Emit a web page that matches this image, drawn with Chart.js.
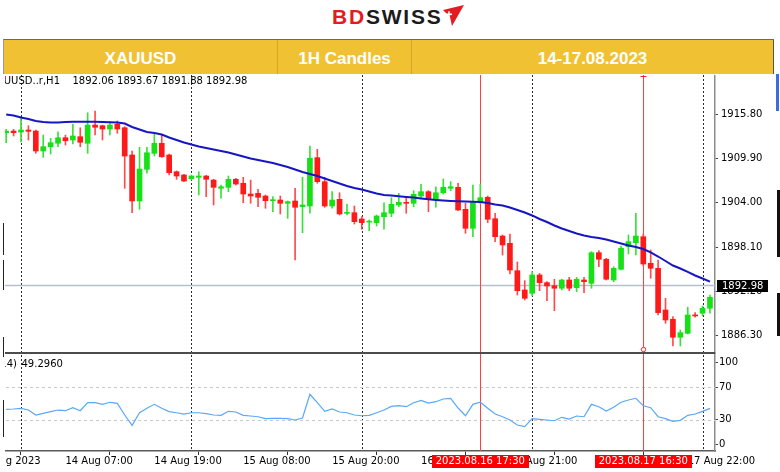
<!DOCTYPE html>
<html>
<head>
<meta charset="utf-8">
<script src="https://cdn.jsdelivr.net/npm/chart.js@4.4.0/dist/chart.umd.min.js"></script>
<style>
  body { margin: 0; width: 780px; height: 472px; position: relative; overflow: hidden; background: #fff; }
  .logo { position: absolute; left: 332px; top: 6px; font: bold 21px/21px "Liberation Sans", Arial, sans-serif; letter-spacing: 1.8px; white-space: nowrap; }
  .logo .bd { color: #e31b23; }
  .logo .sw { color: #1b1b1b; }
  .logo svg { position: absolute; left: 111px; top: -1px; }
  .hdr { position: absolute; left: 3px; top: 39px; width: 771px; height: 35px; background: #f0c233; border-top: 1px solid #6a6a6a; border-left: 1px solid #9a9a9a; box-sizing: border-box; }
  .cell { position: absolute; top: 0; height: 34px; line-height: 37px; text-align: center; color: #fff; font: bold 17px/37px "Liberation Sans", Arial, sans-serif; border-right: 1px solid rgba(120, 90, 0, 0.25); box-sizing: border-box; }
  #c { position: absolute; left: 0; top: 75px; }
  .edge { position: absolute; }
</style>
</head>
<body>
<div class="logo"><span class="bd">BD</span><span class="sw">SWISS</span><svg width="22" height="22" viewBox="0 0 22 22"><polygon points="0,5 21,0 9,21 7,12" fill="#e31b23"/><rect x="3" y="8.5" width="6" height="1.6" fill="#fff"/><rect x="5.2" y="6.3" width="1.6" height="6" fill="#fff"/></svg></div>
<div class="hdr">
  <div class="cell" style="left:0;width:274px">XAUUSD</div>
  <div class="cell" style="left:274px;width:134px">1H Candles</div>
  <div class="cell" style="left:408px;width:362px;border-right:1px solid #555">14-17.08.2023</div>
</div>
<canvas id="c" width="780" height="397"></canvas>
<!-- window edges cropped into the screenshot -->
<div class="edge" style="left:0;top:75px;width:5px;height:397px;background:#fff"></div>
<div class="edge" style="left:3px;top:223px;width:1px;height:32px;background:#222"></div>
<div class="edge" style="left:3px;top:260px;width:1px;height:30px;background:#222"></div>
<div class="edge" style="left:3px;top:337px;width:1px;height:20px;background:#222"></div>
<div class="edge" style="left:3px;top:400px;width:1px;height:37px;background:#222"></div>
<div class="edge" style="left:776px;top:74px;width:3px;height:37px;background:#3a6fd8"></div>
<div class="edge" style="left:777px;top:190px;width:3px;height:67px;background:#111"></div>
<div class="edge" style="left:777px;top:293px;width:3px;height:43px;background:#111"></div>
<script>
// bars: 11 Aug 22:00 ... 18 Aug 02:00, one per hour (bar 0 = 11 Aug 22:00)
const opens = [1913.35, 1913.57, 1913.44, 1913.71, 1913.57, 1910.91, 1911.48, 1911.94, 1912.68, 1912.38,
  1912.82, 1911.94, 1914.37, 1914.28, 1913.84, 1914.47, 1914.01, 1910.38, 1904.25, 1908.47,
  1910.60, 1911.94, 1910.38, 1908.15, 1907.71, 1907.22, 1907.41, 1907.58, 1907.04, 1905.94,
  1906.07, 1907.14, 1906.61, 1905.18, 1905.27, 1904.91, 1904.29, 1904.38, 1903.94, 1904.25,
  1903.49, 1903.58, 1910.02, 1906.82, 1903.58, 1904.47, 1902.61, 1902.69, 1901.85, 1901.43,
  1901.36, 1902.16, 1902.61, 1903.72, 1904.07, 1903.94, 1904.91, 1905.49, 1904.47, 1905.35,
  1905.94, 1906.07, 1903.14, 1900.61, 1904.16, 1904.74, 1901.89, 1899.58, 1898.61, 1894.96,
  1892.39, 1891.95, 1894.39, 1893.36, 1892.96, 1892.62, 1893.72, 1892.70, 1893.72, 1893.28,
  1897.36, 1896.48, 1893.72, 1895.15, 1898.16, 1898.69, 1899.49, 1895.95, 1895.28, 1889.72,
  1888.49, 1886.09, 1886.62, 1889.06, 1889.29, 1889.95];
const highs = [1913.80, 1913.80, 1915.31, 1914.28, 1913.71, 1913.04, 1912.60, 1913.48, 1913.04, 1914.47,
  1914.01, 1916.01, 1916.24, 1914.37, 1914.81, 1914.91, 1914.15, 1910.91, 1911.40, 1911.40,
  1913.14, 1913.04, 1910.51, 1908.25, 1907.81, 1907.71, 1908.15, 1907.67, 1907.14, 1906.38,
  1907.58, 1907.27, 1907.41, 1907.04, 1905.81, 1905.05, 1904.82, 1904.91, 1904.25, 1905.94,
  1907.41, 1911.58, 1911.14, 1907.41, 1905.49, 1905.35, 1903.85, 1903.58, 1902.16, 1901.72,
  1902.38, 1904.02, 1904.69, 1905.27, 1904.82, 1905.62, 1906.47, 1905.62, 1906.15, 1907.18,
  1906.82, 1906.61, 1903.94, 1906.38, 1906.47, 1904.91, 1902.61, 1899.72, 1899.85, 1896.12,
  1893.63, 1894.83, 1894.61, 1893.50, 1893.82, 1893.82, 1894.08, 1894.08, 1894.08, 1897.49,
  1897.63, 1896.61, 1895.49, 1898.25, 1899.72, 1902.61, 1899.85, 1897.72, 1896.39, 1891.28,
  1888.83, 1887.06, 1890.09, 1889.37, 1890.26, 1891.72];
const lows = [1912.02, 1912.91, 1912.11, 1912.38, 1910.60, 1910.07, 1910.51, 1911.48, 1911.71, 1911.84,
  1911.48, 1910.60, 1913.04, 1912.38, 1913.04, 1913.27, 1905.94, 1902.69, 1903.14, 1907.94,
  1910.24, 1910.07, 1907.71, 1907.14, 1906.82, 1907.05, 1905.05, 1904.82, 1903.72, 1904.61,
  1905.49, 1906.38, 1904.02, 1903.94, 1903.49, 1903.28, 1902.82, 1902.52, 1901.94, 1896.39,
  1900.02, 1902.61, 1906.61, 1903.41, 1903.28, 1902.38, 1902.38, 1901.18, 1900.48, 1900.29,
  1900.92, 1900.48, 1902.16, 1903.49, 1902.61, 1903.49, 1904.61, 1902.82, 1903.41, 1905.18,
  1905.62, 1902.96, 1899.94, 1899.49, 1903.94, 1901.36, 1898.83, 1897.05, 1894.52, 1891.72,
  1891.06, 1891.59, 1892.30, 1890.96, 1889.63, 1892.39, 1892.30, 1892.16, 1892.03, 1892.62,
  1895.49, 1893.72, 1893.50, 1895.05, 1897.19, 1897.05, 1895.59, 1893.95, 1889.06, 1887.95,
  1884.93, 1884.93, 1886.53, 1888.75, 1888.93, 1889.29];
const closes = [1913.57, 1913.35, 1913.71, 1913.53, 1910.91, 1911.48, 1912.02, 1912.68, 1912.28, 1912.91,
  1912.07, 1914.37, 1914.07, 1913.84, 1914.37, 1913.84, 1910.24, 1904.25, 1908.51, 1910.68,
  1911.94, 1910.15, 1908.02, 1907.58, 1906.91, 1907.58, 1907.58, 1907.14, 1906.07, 1906.15,
  1907.14, 1906.51, 1905.18, 1904.91, 1904.74, 1904.29, 1904.38, 1903.94, 1904.16, 1903.41,
  1903.72, 1909.94, 1906.82, 1903.58, 1904.38, 1902.52, 1902.69, 1901.49, 1901.36, 1901.49,
  1902.25, 1902.69, 1903.81, 1904.07, 1903.94, 1905.14, 1905.49, 1904.47, 1905.35, 1906.07,
  1906.15, 1903.05, 1900.61, 1904.16, 1904.69, 1901.81, 1899.49, 1898.39, 1895.05, 1892.30,
  1891.28, 1894.39, 1893.36, 1892.92, 1892.62, 1893.72, 1892.62, 1893.82, 1893.50, 1897.36,
  1896.48, 1893.82, 1895.28, 1897.95, 1898.83, 1899.58, 1895.85, 1895.28, 1889.37, 1888.39,
  1886.09, 1886.70, 1889.06, 1888.93, 1889.95, 1891.42];
const maValues = [1915.77, 1915.64, 1915.37, 1915.17, 1914.91, 1914.77, 1914.71, 1914.71, 1914.77, 1914.81,
  1914.81, 1914.81, 1914.81, 1914.77, 1914.73, 1914.71, 1914.57, 1914.11, 1913.77, 1913.44,
  1913.31, 1913.11, 1912.71, 1912.38, 1912.04, 1911.78, 1911.51, 1911.31, 1911.11, 1910.91,
  1910.71, 1910.44, 1910.18, 1909.91, 1909.71, 1909.51, 1909.31, 1909.04, 1908.78, 1908.45,
  1908.11, 1907.85, 1907.58, 1907.25, 1906.91, 1906.58, 1906.25, 1905.98, 1905.78, 1905.51,
  1905.25, 1905.05, 1904.98, 1904.87, 1904.78, 1904.71, 1904.58, 1904.47, 1904.38, 1904.31,
  1904.25, 1904.21, 1904.18, 1904.15, 1904.11, 1903.98, 1903.78, 1903.65, 1903.38, 1903.05,
  1902.72, 1902.32, 1901.85, 1901.45, 1900.98, 1900.58, 1900.25, 1899.92, 1899.65, 1899.45,
  1899.32, 1899.12, 1898.85, 1898.59, 1898.32, 1898.12, 1897.85, 1897.39, 1896.85, 1896.25,
  1895.65, 1895.25, 1894.79, 1894.32, 1893.92, 1893.50];
const rsiValues = [42.9, 43.3, 44.1, 42.0, 35.9, 38.0, 40.0, 42.0, 41.2, 44.9,
  41.2, 51.0, 51.0, 49.0, 51.5, 50.2, 35.9, 23.3, 38.7, 44.1,
  49.0, 44.1, 40.0, 38.7, 37.1, 38.7, 38.7, 37.5, 35.9, 35.5,
  40.4, 39.6, 35.5, 34.7, 33.8, 31.4, 31.9, 31.9, 31.4, 29.8,
  32.2, 61.3, 51.0, 40.4, 43.3, 39.6, 38.7, 35.9, 35.0, 35.5,
  38.7, 42.0, 46.5, 47.3, 46.1, 51.0, 53.9, 50.6, 52.2, 55.5,
  56.4, 44.5, 35.0, 49.0, 51.5, 44.1, 37.1, 33.8, 29.8, 23.7,
  21.6, 31.4, 30.6, 29.8, 28.9, 33.1, 31.0, 34.7, 33.8, 49.0,
  46.1, 40.8, 45.3, 51.5, 54.3, 56.4, 47.3, 44.9, 33.8, 31.4,
  28.2, 29.4, 35.5, 37.1, 40.4, 44.1];

// axes and annotations
const timeTickBars = [-4, 8, 20, 32, 44, 56, 68, 80, 92];
const timeTickLabels = ['11 Aug 2023', '14 Aug 07:00', '14 Aug 19:00', '15 Aug 08:00', '15 Aug 20:00',
  '16 Aug 09:00', '16 Aug 21:00', '17 Aug 10:00', '17 Aug 22:00'];
const daySeparatorBars = [2, 25, 48, 71, 94];
const markerBars = [64, 86];
const markerLabels = ['2023.08.16 17:30', '2023.08.17 16:30'];
const priceTicks = [1886.30, 1892.20, 1898.10, 1904.00, 1909.90, 1915.80];
const rsiTicks = [0, 30, 70, 100];
const rsiLevels = [30, 70];
const bidPrice = 1892.98;
const symbolText = 'XAUUSD..r,H1';
const ohlcText = ['1892.06', '1893.67', '1891.88', '1892.98'];
const rsiName = 'RSI(14)';
const rsiValueText = '49.2960';

const GREEN = '#16e016', RED = '#ff1a1a';
const FONT = '10px "DejaVu Sans"';
Chart.defaults.font.family = '"DejaVu Sans", sans-serif';
Chart.defaults.font.size = 10;
Chart.defaults.color = '#000';

const isUp = opens.map((o, k) => closes[k] >= o);

const decor = {
    id: 'decor',
    beforeDatasetsDraw(chart) {
        const { ctx, chartArea, scales: { x, y, y2 } } = chart;
        ctx.save();
        // day separators
        ctx.strokeStyle = '#2a2a2a';
        ctx.lineWidth = 1;
        ctx.setLineDash([2, 2]);
        daySeparatorBars.forEach(b => {
            const px = Math.round(x.getPixelForValue(b)) + 0.5;
            ctx.beginPath(); ctx.moveTo(px, chartArea.top); ctx.lineTo(px, chartArea.bottom); ctx.stroke();
        });
        // RSI levels
        ctx.strokeStyle = '#c8c8c8';
        ctx.setLineDash([3, 3]);
        rsiLevels.forEach(v => {
            const py = Math.round(y2.getPixelForValue(v)) + 0.5;
            ctx.beginPath(); ctx.moveTo(chartArea.left, py); ctx.lineTo(chartArea.right, py); ctx.stroke();
        });
        ctx.setLineDash([]);
        // bid line
        ctx.strokeStyle = '#b6c0ca';
        ctx.lineWidth = 1.6;
        const by = y.getPixelForValue(bidPrice);
        ctx.beginPath(); ctx.moveTo(chartArea.left, by); ctx.lineTo(chartArea.right, by); ctx.stroke();
        // vertical event lines
        ctx.strokeStyle = '#ff4040';
        ctx.lineWidth = 1;
        markerBars.forEach(b => {
            const px = Math.round(x.getPixelForValue(b)) + 0.5;
            ctx.beginPath(); ctx.moveTo(px, chartArea.top); ctx.lineTo(px, chartArea.bottom); ctx.stroke();
        });
        ctx.restore();
    },
    afterDraw(chart) {
        const { ctx, chartArea, scales: { x, y, y2 } } = chart;
        ctx.save();
        // border between price and RSI panes
        ctx.strokeStyle = '#4c4c4c';
        ctx.lineWidth = 2;
        ctx.beginPath(); ctx.moveTo(chartArea.left, y.bottom); ctx.lineTo(chartArea.right, y.bottom); ctx.stroke();

        // small anchor mark on the second event line
        const mx = Math.round(x.getPixelForValue(markerBars[1])) + 0.5;
        ctx.strokeStyle = '#ff2020';
        ctx.lineWidth = 1;
        ctx.fillStyle = '#fff';
        ctx.beginPath(); ctx.arc(mx, y.bottom - 3.5, 2.2, 0, Math.PI * 2); ctx.fill(); ctx.stroke();
        ctx.beginPath(); ctx.moveTo(mx - 3, chartArea.top + 1.5); ctx.lineTo(mx + 3, chartArea.top + 1.5); ctx.stroke();

        // text at the top of each pane
        ctx.font = FONT;
        ctx.fillStyle = '#000';
        ctx.textBaseline = 'middle';
        ctx.textAlign = 'right';
        ctx.fillText(symbolText, 60, 6);
        ctx.fillText(rsiName, 17, y2.top + 11);
        ctx.textAlign = 'left';
        ctx.fillText(ohlcText.join(' '), 72.5, 6);
        ctx.fillText(rsiValueText, 21.5, y2.top + 11);

        // current price label
        const by = y.getPixelForValue(bidPrice);
        ctx.fillStyle = '#000';
        ctx.fillRect(chartArea.right + 2, Math.round(by) - 6, 51, 12);
        ctx.fillStyle = '#fff';
        ctx.fillText(bidPrice.toFixed(2), chartArea.right + 7, by + 0.5);

        // event time labels on the time axis
        ctx.textAlign = 'center';
        markerBars.forEach((b, i) => {
            const px = x.getPixelForValue(b);
            const w = ctx.measureText(markerLabels[i]).width + 8;
            ctx.fillStyle = '#ff0000';
            ctx.fillRect(Math.round(px - w / 2), chartArea.bottom + 4, Math.round(w), 13);
            ctx.fillStyle = '#fff';
            ctx.fillText(markerLabels[i], px, chartArea.bottom + 10.5);
        });
        ctx.restore();
    }
};

const fit = (w, h) => s => {
    if (w) s.width = w;
    if (h) s.height = h;
    s.paddingTop = 0; s.paddingBottom = 0; s.paddingLeft = 0; s.paddingRight = 0;
};

new Chart(document.getElementById('c'), {
    type: 'bar',
    data: {
        datasets: [
            {
                type: 'line', label: 'MA', yAxisID: 'y', order: 0,
                data: maValues.map((v, k) => ({ x: k, y: v })),
                borderColor: '#1616c4', borderWidth: 2, pointRadius: 0, tension: 0
            },
            {
                type: 'line', label: 'RSI', yAxisID: 'y2', order: 0,
                data: rsiValues.map((v, k) => ({ x: k, y: v })),
                borderColor: '#5aa8f8', borderWidth: 1.2, pointRadius: 0, tension: 0
            },
            {
                label: 'body', yAxisID: 'y', order: 1, grouped: false,
                data: opens.map((o, k) => ({ x: k, y: [Math.min(o, closes[k]), Math.max(o, closes[k])] })),
                backgroundColor: isUp.map(u => u ? GREEN : RED),
                barThickness: 5, minBarLength: 1, borderWidth: 0
            },
            {
                label: 'wick', yAxisID: 'y', order: 2, grouped: false,
                data: lows.map((l, k) => ({ x: k, y: [l, highs[k]] })),
                backgroundColor: isUp.map(u => u ? '#3ae03a' : '#ff4a4a'),
                barThickness: 1, borderWidth: 0
            }
        ]
    },
    options: {
        responsive: false,
        animation: false,
        devicePixelRatio: 1,
        events: [],
        layout: { padding: 0 },
        plugins: { legend: { display: false }, tooltip: { enabled: false } },
        scales: {
            x: {
                type: 'linear', position: 'bottom', min: -0.834, max: 95.68, bounds: 'data', offset: false,
                afterBuildTicks: s => { s.ticks = timeTickBars.map(v => ({ value: v })); },
                ticks: {
                    callback: (v, i) => timeTickLabels[i],
                    align: 'start', autoSkip: false, maxRotation: 0, minRotation: 0, padding: 0,
                    font: { size: 10 }, color: '#000'
                },
                grid: { drawOnChartArea: false, drawTicks: true, tickLength: 4, tickColor: '#333', tickWidth: 1 },
                border: { color: '#5a5a5a', width: 1.5 },
                afterFit: fit(0, 21)
            },
            y: {
                type: 'linear', position: 'right', stack: 'panes', stackWeight: 278,
                min: 1883.99, max: 1921.04, bounds: 'data',
                afterBuildTicks: s => { s.ticks = priceTicks.map(v => ({ value: v })); },
                ticks: { callback: v => v.toFixed(2), padding: 3, font: { size: 10 }, color: '#000' },
                grid: { drawOnChartArea: false, tickLength: 3, tickColor: '#444' },
                border: { color: '#8c8c8c', width: 1.5 },
                afterFit: fit(65, 0)
            },
            y2: {
                type: 'linear', position: 'right', stack: 'panes', stackWeight: 98,
                min: -8.2, max: 111.9, bounds: 'data',
                afterBuildTicks: s => { s.ticks = rsiTicks.map(v => ({ value: v })); },
                ticks: { callback: v => String(v), padding: 1, font: { size: 10 }, color: '#000' },
                grid: { drawOnChartArea: false, tickLength: 3, tickColor: '#444' },
                border: { color: '#8c8c8c', width: 1.5 },
                afterFit: fit(65, 0)
            }
        }
    },
    plugins: [decor]
});
</script>
</body>
</html>
